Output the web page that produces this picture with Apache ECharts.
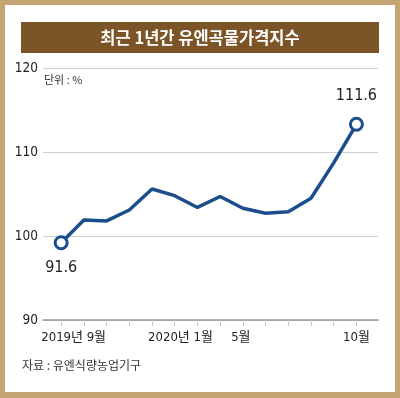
<!DOCTYPE html>
<html>
<head>
<meta charset="utf-8">
<script src="https://cdn.jsdelivr.net/npm/echarts@6/dist/echarts.min.js"></script>
<style>
  html, body { margin: 0; padding: 0; background: #fff; }
  #main { width: 400px; height: 398px; }
</style>
</head>
<body>
<div id="main"></div>
<script>
// 2019년 9월 ~ 2020년 10월 (월별)
var monthIdx = [0, 1, 2, 3, 4, 5, 6, 7, 8, 9, 10, 11, 12, 13];
var indexValues = [99.2, 101.9, 101.8, 103.1, 105.6, 104.8, 103.4, 104.7, 103.3, 102.7, 102.9, 104.5, 108.7, 113.3];
var pointLabels = ['91.6', '', '', '', '', '', '', '', '', '', '', '', '', '111.6'];
var xLabelIdx = [0, 4, 8, 13];
var xLabelText = ['2019년 9월', '2020년 1월', '5월', '10월'];
var yTicks = [90, 100, 110, 120];

var numFont = '"Liberation Sans Narrow", "DejaVu Sans Condensed", "Noto Sans CJK KR", sans-serif';
var krFont = '"Noto Sans CJK KR", sans-serif';

var myChart = echarts.init(document.getElementById('main'));

var seriesData = [];
for (var i = 0; i < monthIdx.length; i++) {
    var item = { value: [monthIdx[i], indexValues[i]] };
    if (pointLabels[i] !== '') {
        item.symbol = 'circle';
        item.symbolSize = 12;
        item.itemStyle = { color: '#fff', borderColor: '#1c4e8e', borderWidth: 3 };
        item.label = {
            show: true,
            formatter: pointLabels[i],
            position: i === 0 ? 'bottom' : 'top',
            distance: i === 0 ? 10 : 13
        };
    }
    seriesData.push(item);
}

// 라벨 위치 보정 (원본 배치 맞춤)
var labelShift = { 0: 'a', 4: 'b', 8: 'c', 13: 'd' };

var option = {
    backgroundColor: '#c4a574',
    animation: false,
    graphic: [
        { type: 'rect', shape: { x: 5, y: 5, width: 390, height: 387 }, style: { fill: '#fff' }, z: -10 },
        { type: 'rect', shape: { x: 21, y: 22, width: 358, height: 31 }, style: { fill: '#7b5427' } },
        {
            type: 'text', x: 200, y: 37.5,
            style: {
                text: '최근 1년간 유엔곡물가격지수', fill: '#fff', font: 'bold 16.5px ' + krFont,
                align: 'center', verticalAlign: 'middle'
            }
        },
        {
            type: 'text', x: 44, y: 80,
            style: { text: '단위 : %', fill: '#333', font: '11px ' + krFont, verticalAlign: 'middle' }
        },
        {
            type: 'text', x: 22, y: 365,
            style: { text: '자료 : 유엔식량농업기구', fill: '#333', font: '12px ' + krFont, verticalAlign: 'middle' }
        }
    ],
    grid: { left: 43, right: 22, top: 68, bottom: 78 },
    xAxis: {
        type: 'value',
        min: -0.8,
        max: 13.95,
        splitLine: { show: false },
        axisLine: { show: true, onZero: false, lineStyle: { color: '#999', width: 1.5 } },
        axisTick: {
            show: true, customValues: monthIdx, length: 6,
            lineStyle: { color: '#ccc', width: 1 }
        },
        axisLabel: {
            show: true, customValues: xLabelIdx, margin: 11,
            formatter: function (v) {
                var k = xLabelIdx.indexOf(Math.round(v));
                return '{' + labelShift[Math.round(v)] + '|' + xLabelText[k] + '}';
            },
            rich: {
                a: { padding: [0, 0, 0, 25], fontSize: 13, color: '#222', fontFamily: numFont },
                b: { padding: [0, 0, 0, 57], fontSize: 13, color: '#222', fontFamily: numFont },
                c: { padding: [0, 4, 0, 0], fontSize: 13, color: '#222', fontFamily: numFont },
                d: { padding: [0, 0, 0, 0], fontSize: 13, color: '#222', fontFamily: numFont }
            }
        }
    },
    yAxis: {
        type: 'value',
        min: yTicks[0],
        max: yTicks[yTicks.length - 1],
        interval: 10,
        axisLine: { show: false },
        axisTick: { show: false },
        splitLine: { show: true, lineStyle: { color: '#cfcfcf', width: 1 } },
        axisLabel: { margin: 5, fontSize: 13.5, color: '#222', fontFamily: numFont }
    },
    series: [
        {
            type: 'line',
            data: seriesData,
            symbol: 'none',
            showSymbol: true,
            lineStyle: { color: '#1c4e8e', width: 3.5 },
            itemStyle: { color: '#1c4e8e' },
            label: { fontSize: 16, color: '#222', fontFamily: numFont },
            z: 3
        }
    ]
};

myChart.setOption(option);
</script>
</body>
</html>
